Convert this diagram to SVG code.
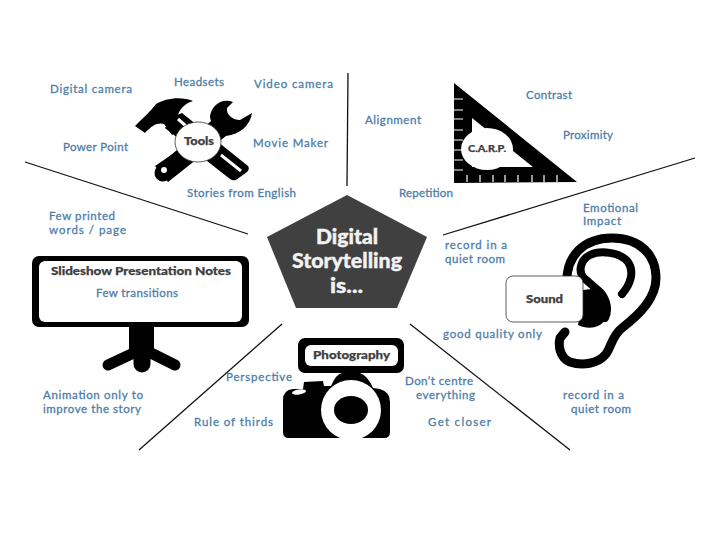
<svg xmlns="http://www.w3.org/2000/svg" width="720" height="540" viewBox="0 0 720 540">
<style>
text{font-family:"Lato","Liberation Sans",sans-serif}
.b{fill:#4d7ea9;font-size:11.5px;stroke:#4d7ea9;stroke-width:.3}
.h{fill:#404040;font-size:11px;font-weight:900;stroke:#404040;stroke-width:.25}
.c{fill:#f2f2f2;font-size:21px;font-weight:900;stroke:#f2f2f2;stroke-width:.4}
.k{fill:#000}
.s{fill:none;stroke:#000;stroke-linecap:round;stroke-linejoin:round}
.w{fill:#fff}
.l{stroke:#111;stroke-width:1.3;fill:none}
</style>
<rect width="720" height="540" fill="#fff"/>
<g id="connectors">
<line class="l" x1="348" y1="73" x2="347" y2="186"/>
<line class="l" x1="25" y1="162" x2="248" y2="234"/>
<line class="l" x1="443" y1="235" x2="695" y2="158"/>
<line class="l" x1="282" y1="324" x2="139" y2="450"/>
<line class="l" x1="410" y1="324" x2="570" y2="450"/>
</g>
<g id="center">
<polygon points="347,195 427,237 397,308 296,308 267,237" fill="#404040"/>
<text class="c" x="316" y="244" textLength="62" lengthAdjust="spacingAndGlyphs">Digital</text>
<text class="c" x="292" y="268" textLength="110" lengthAdjust="spacingAndGlyphs">Storytelling</text>
<text class="c" x="330" y="293" textLength="33" lengthAdjust="spacingAndGlyphs">is...</text>
</g>
<g id="tools">
<path class="k" d="M135,126 C145,116 150,112 156,104 C165,98 182,96 193,101 C186,103 180,108 178,115 L186,123 L172,135 L164,124 C158,122 152,125 145,133 Z"/>
<path class="k" d="M172,117 L182,113 L248,166 Q250,169 247,172 L236,180 Q233,181 230,179 L165,128 Z"/>
<path class="k" d="M233,102 C222,98 212,105 210,116 C210,120 212,124 214,126 L155,166 L168,182 L226,136 C240,134 250,126 252,113 L240,120 C232,120 226,114 227,108 Z"/>
<path class="s" stroke-width="17" d="M163,173 L216,128"/>
<circle class="w" cx="164" cy="170" r="3"/>
<path fill="none" stroke="#fff" stroke-width="3" d="M178,119 L186,126 M221,155 L241,171"/>
<ellipse cx="198" cy="142" rx="23" ry="20" fill="#fff" stroke="#333" stroke-width=".8"/>
<text class="h" x="184" y="145" textLength="30" lengthAdjust="spacingAndGlyphs">Tools</text>
<text class="b" x="50" y="93" textLength="82">Digital camera</text>
<text class="b" x="174" y="86" textLength="50">Headsets</text>
<text class="b" x="254" y="88" textLength="79">Video camera</text>
<text class="b" x="63" y="151" textLength="65">Power Point</text>
<text class="b" x="253" y="147" textLength="75">Movie Maker</text>
<text class="b" x="187" y="197" textLength="109">Stories from English</text>
</g>
<g id="carp">
<path class="k" fill-rule="evenodd" d="M454,83 L577,182 L454,183 Z M472,118 L472,167 L533,167 Z"/>
<path fill="none" stroke="#fff" stroke-width="1.2" d="M454,99H463M454,110H463M454,119H463M454,130H463M454,140H463M454,150H463M454,160H463M454,170H463M467,175V182M480,175V182M493,175V182M505,175V182M518,175V182M532,175V182M544,175V182M557,175V182"/>
<ellipse cx="487" cy="149" rx="26" ry="21" class="w"/>
<text class="h" x="468" y="152" textLength="38" lengthAdjust="spacingAndGlyphs" style="font-size:9px">C.A.R.P.</text>
<text class="b" x="365" y="124" textLength="56">Alignment</text>
<text class="b" x="526" y="99" textLength="46">Contrast</text>
<text class="b" x="563" y="139" textLength="50">Proximity</text>
<text class="b" x="399" y="197" textLength="54">Repetition</text>
</g>
<g id="slideshow">
<path class="s" stroke-width="11" d="M140,350 L108,365 M145,350 L175,365"/>
<path class="s" stroke-width="17" d="M142,345 L142,364"/>
<rect x="129" y="325" width="25" height="25" class="k"/>
<rect x="32" y="256" width="217" height="71" rx="7" class="k"/>
<rect x="39" y="261" width="203" height="61" rx="6" class="w"/>
<text class="h" x="51" y="275" textLength="180" lengthAdjust="spacingAndGlyphs">Slideshow Presentation Notes</text>
<text class="b" x="96" y="297" textLength="82">Few transitions</text>
<text class="b" x="49" y="220" textLength="66">Few printed</text>
<text class="b" x="49" y="234" textLength="77">words / page</text>
<text class="b" x="43" y="399" textLength="100">Animation only to</text>
<text class="b" x="43" y="413" textLength="98">improve the story</text>
</g>
<g id="photography">
<path class="k" d="M283,400 Q283,390 293,389 L303,389 L304,382 L323,381 L324,386 L331,386 Q336,374 342,373 L360,373 Q368,376 373,388 L380,389 Q390,392 390,402 L390,432 Q390,438 384,438 L289,438 Q283,438 283,432 Z"/>
<rect x="298" y="338" width="106" height="35" rx="7" class="k"/>
<rect x="305" y="345" width="93" height="21" rx="6" class="w"/>
<text class="h" x="313" y="359" textLength="77" lengthAdjust="spacingAndGlyphs" style="font-size:12px">Photography</text>
<circle cx="351" cy="410" r="30" class="w"/>
<ellipse cx="351" cy="410" rx="17" ry="14" class="k"/>
<ellipse cx="299" cy="392" rx="7" ry="2.5" class="w" transform="rotate(-8 299 392)"/>
<text class="b" x="226" y="381" textLength="66">Perspective</text>
<text class="b" x="194" y="426" textLength="79">Rule of thirds</text>
<text class="b" x="405" y="385" textLength="68">Don’t centre</text>
<text class="b" x="416" y="399" textLength="59">everything</text>
<text class="b" x="428" y="426" textLength="63">Get closer</text>
</g>
<g id="sound">
<path class="s" stroke-width="9" d="M567,285 C565,255 585,238 612,238 C640,238 656,255 656,278 C656,298 640,314 622,328 C612,336 612,345 606,354 C598,364 582,366 570,362 C560,358 558,346 560,338 L565,332"/>
<path class="s" stroke-width="8" d="M622,294 C630,285 635,272 628,262 C620,252 600,250 590,255 C580,260 578,272 584,278 L600,292 C607,300 609,310 605,318"/>
<path class="k" d="M583,290 L600,288 C610,298 610,312 605,320 C600,328 588,330 578,325 Z"/>
<rect x="506" y="276" width="77" height="46" rx="7" fill="#fff" stroke="#333" stroke-width=".8"/>
<text class="h" x="526" y="303" textLength="37" lengthAdjust="spacingAndGlyphs">Sound</text>
<text class="b" x="583" y="212" textLength="55">Emotional</text>
<text class="b" x="583" y="225" textLength="38">Impact</text>
<text class="b" x="445" y="249" textLength="62">record in a</text>
<text class="b" x="445" y="263" textLength="60">quiet room</text>
<text class="b" x="443" y="338" textLength="99">good quality only</text>
<text class="b" x="563" y="399" textLength="61">record in a</text>
<text class="b" x="571" y="413" textLength="60">quiet room</text>
</g>
</svg>
